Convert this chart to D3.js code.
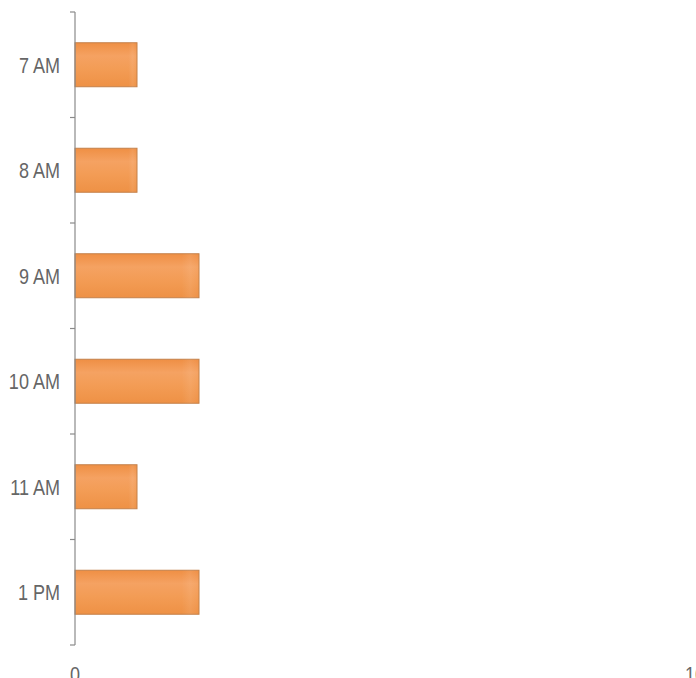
<!DOCTYPE html>
<html>
<head>
<meta charset="utf-8">
<script src="https://cdn.jsdelivr.net/npm/d3@7"></script>
<style>
  html, body { margin: 0; padding: 0; background: #fff; }
  svg { display: block; }
  text { font-family: "Liberation Sans", Arial, sans-serif; fill: #666; }
</style>
</head>
<body>
<svg id="chart" width="696" height="678"></svg>
<script>
// Hourly counts
const hours = ["7 AM", "8 AM", "9 AM", "10 AM", "11 AM", "1 PM"];
const counts = [1, 1, 2, 2, 1, 2];
const xTickValues = [0, 10];

const W = 696, H = 678;
const plot = { left: 75, right: 695, top: 12, bottom: 645 };

const svg = d3.select("#chart");

const x = d3.scaleLinear().domain([0, 10]).range([plot.left, plot.right]);
const y = d3.scaleBand()
  .domain(hours)
  .range([plot.top, plot.bottom])
  .paddingInner(0.583)
  .paddingOuter(0.2915);

// Bar fill: soft vertical gradient
const defs = svg.append("defs");
const grad = defs.append("linearGradient")
  .attr("id", "barGrad").attr("x1", 0).attr("y1", 0).attr("x2", 0).attr("y2", 1);
[["0%", "#ef8f44"], ["30%", "#f5a262"], ["60%", "#f39c55"], ["100%", "#ee9145"]]
  .forEach(([o, c]) => grad.append("stop").attr("offset", o).attr("stop-color", c));
const side = defs.append("linearGradient")
  .attr("id", "barSide").attr("x1", 0).attr("y1", 0).attr("x2", 1).attr("y2", 0);
[["0%", "#ffffff", 0], ["86%", "#ffffff", 0], ["93%", "#ffffff", 0.08], ["100%", "#ffffff", 0]]
  .forEach(([o, c, a]) => side.append("stop").attr("offset", o).attr("stop-color", c).attr("stop-opacity", a));

const rows = hours.map((h, i) => ({ hour: h, value: counts[i] }));

const bars = svg.append("g");
bars.selectAll("rect.bar")
  .data(rows)
  .join("rect")
  .attr("class", "bar")
  .attr("x", x(0))
  .attr("y", d => y(d.hour))
  .attr("width", d => x(d.value) - x(0))
  .attr("height", y.bandwidth())
  .attr("fill", "url(#barGrad)")
  .attr("stroke", "#c48049")
  .attr("stroke-width", 1);
bars.selectAll("rect.sheen")
  .data(rows)
  .join("rect")
  .attr("class", "sheen")
  .attr("x", x(0))
  .attr("y", d => y(d.hour))
  .attr("width", d => x(d.value) - x(0))
  .attr("height", y.bandwidth())
  .attr("fill", "url(#barSide)");

// Category axis: line with ticks on band boundaries
const axisG = svg.append("g");
axisG.append("line")
  .attr("x1", plot.left).attr("x2", plot.left)
  .attr("y1", plot.top).attr("y2", plot.bottom)
  .attr("stroke", "#8a8a8a").attr("stroke-width", 1.2);
const bounds = hours.map(h => y(h) - y.step() * y.paddingInner() / 2)
  .concat([plot.bottom]);
axisG.selectAll("line.tick")
  .data(bounds)
  .join("line")
  .attr("class", "tick")
  .attr("x1", plot.left - 5).attr("x2", plot.left)
  .attr("y1", d => d).attr("y2", d => d)
  .attr("stroke", "#8a8a8a").attr("stroke-width", 1.2);

axisG.selectAll("text.cat")
  .data(hours)
  .join("text")
  .attr("class", "cat")
  .attr("transform", d => `translate(${plot.left - 15},${y(d) + y.bandwidth() / 2}) scale(0.82,1)`)
  .attr("text-anchor", "end")
  .attr("dy", "0.36em")
  .style("font-size", "22px")
  .text(d => d);

// Value axis labels
svg.append("g").selectAll("text.val")
  .data(xTickValues)
  .join("text")
  .attr("class", "val")
  .attr("transform", d => `translate(${x(d)},682) scale(0.82,1)`)
  .attr("text-anchor", "middle")
  .style("font-size", "22px")
  .text(d => d);
</script>
</body>
</html>
